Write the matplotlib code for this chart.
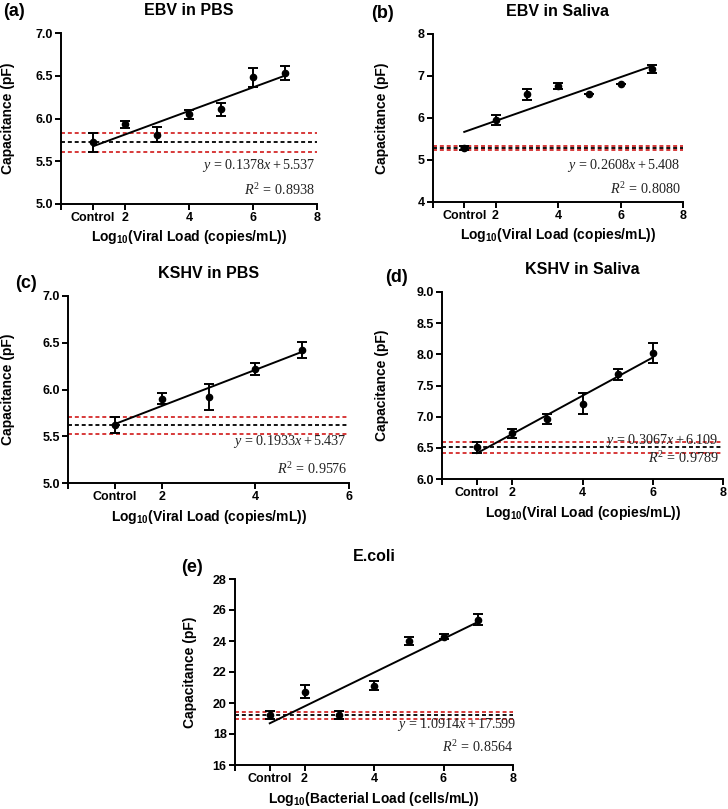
import matplotlib
matplotlib.use("Agg")
import matplotlib.pyplot as plt
import numpy as np

plt.rcParams['font.family'] = ['Liberation Sans', 'DejaVu Sans']
plt.rcParams['font.weight'] = 'bold'
plt.rcParams['mathtext.fontset'] = 'custom'
plt.rcParams['mathtext.rm'] = 'Liberation Serif:weight=normal'
plt.rcParams['mathtext.it'] = 'Liberation Serif:italic:weight=normal'
plt.rcParams['mathtext.bf'] = 'Liberation Sans:bold'
plt.rcParams['mathtext.sf'] = 'Liberation Sans:bold'

W, H = 728, 809

# ---------------- data ----------------
titles = ["EBV in PBS", "EBV in Saliva", "KSHV in PBS", "KSHV in Saliva", "E.coli"]
panel_tags = ["(a)", "(b)", "(c)", "(d)", "(e)"]
xlabels = ["Viral Load (copies/mL)", "Viral Load (copies/mL)", "Viral Load (copies/mL)",
           "Viral Load (copies/mL)", "Bacterial Load (cells/mL)"]

a_x = [1, 2, 3, 4, 5, 6, 7]
a_y = [5.72, 5.93, 5.81, 6.05, 6.11, 6.48, 6.53]
a_e = [0.11, 0.04, 0.085, 0.05, 0.075, 0.11, 0.08]
a_fit = (0.1378, 5.537); a_r2 = "0.8938"
a_band = (5.72, 5.83, 5.61)

b_x = [1, 2, 3, 4, 5, 6, 7]
b_y = [5.29, 5.95, 6.57, 6.77, 6.57, 6.80, 7.16]
b_e = [0.05, 0.12, 0.13, 0.07, 0.0, 0.0, 0.10]
b_fit = (0.2608, 5.408); b_r2 = "0.8080"
b_band = (5.29, 5.34, 5.24)

c_x = [1, 2, 3, 4, 5]
c_y = [5.62, 5.90, 5.92, 6.22, 6.42]
c_e = [0.09, 0.06, 0.14, 0.06, 0.085]
c_fit = (0.1933, 5.437); c_r2 = "0.9576"
c_band = (5.62, 5.71, 5.52)

d_x = [1, 2, 3, 4, 5, 6]
d_y = [6.51, 6.73, 6.96, 7.21, 7.68, 8.02]
d_e = [0.09, 0.075, 0.08, 0.175, 0.09, 0.16]
d_fit = (0.3067, 6.109); d_r2 = "0.9789"
d_band = (6.51, 6.60, 6.41)

e_x = [1, 2, 3, 4, 5, 6, 7]
e_y = [19.22, 20.73, 19.22, 21.11, 23.99, 24.29, 25.38]
e_e = [0.26, 0.40, 0.28, 0.30, 0.27, 0.18, 0.33]
e_fit = (1.0914, 17.599); e_r2 = "0.8564"
e_band = (19.22, 19.45, 18.97)

xlims = [(0, 8), (0, 8), (0, 6), (0, 8), (0, 8)]
ylims = [(5.0, 7.0), (4, 8), (5.0, 7.0), (6.0, 9.0), (16, 28)]
yticks = [[5.0, 5.5, 6.0, 6.5, 7.0], [4, 5, 6, 7, 8], [5.0, 5.5, 6.0, 6.5, 7.0],
          [6.0, 6.5, 7.0, 7.5, 8.0, 8.5, 9.0], [16, 18, 20, 22, 24, 26, 28]]
yfmt = ["{:.1f}", "{:.0f}", "{:.1f}", "{:.1f}", "{:.0f}"]
xticks = [[0, 1, 2, 4, 6, 8], [0, 1, 2, 4, 6, 8], [0, 1, 2, 4, 6], [0, 1, 2, 4, 6, 8], [0, 1, 2, 4, 6, 8]]

# text positions (data coords): eq (x, y), r2 (x, y)
eq_pos = [((7.95, 5.45), (7.93, 5.16)), ((7.92, 4.86), (7.92, 4.32)), ((5.95, 5.44), (5.95, 5.15)),
          ((7.87, 6.615), (7.87, 6.33)), ((8.08, 18.6), (8.0, 17.15))]

# axes pixel boxes: left, top, right, bottom
boxes = [(61, 33, 317, 204), (433, 34, 683, 202), (68, 296, 349, 483),
         (442, 292, 723, 479), (235, 579, 513, 765)]
ylabel_right_px = [15, 389, 15, 389, 197]
tag_pos = [(3, 12), (371, 14), (15, 284), (385, 278), (181, 567)]

series = [(a_x, a_y, a_e, a_fit, a_r2, a_band),
          (b_x, b_y, b_e, b_fit, b_r2, b_band),
          (c_x, c_y, c_e, c_fit, c_r2, c_band),
          (d_x, d_y, d_e, d_fit, d_r2, d_band),
          (e_x, e_y, e_e, e_fit, e_r2, e_band)]

fig = plt.figure(figsize=(W / 100, H / 100), dpi=100)
red = '#d42a2a'

for i, (xs, ys, es, fit, r2, band) in enumerate(series):
    l, t, r, b = boxes[i]
    ax = fig.add_axes([l / W, 1 - b / H, (r - l) / W, (b - t) / H])
    ax.set_xlim(*xlims[i])
    ax.set_ylim(*ylims[i])
    for s in ['top', 'right']:
        ax.spines[s].set_visible(False)
    for s in ['left', 'bottom']:
        ax.spines[s].set_linewidth(1.4)
    ax.tick_params(width=1.4, length=4, labelsize=9, pad=2)
    ax.set_yticks(yticks[i])
    ax.set_yticklabels([yfmt[i].format(v) for v in yticks[i]], fontweight='bold')
    ax.set_xticks(xticks[i])
    ax.set_xticklabels(["", "Control"] + [str(v) for v in xticks[i][2:]], fontweight='bold')

    # baseline band (control mean and +/- sd)
    ax.axhline(band[0], color='black', ls=(0, (2.2, 1.6)), lw=1.3)
    ax.axhline(band[1], color=red, ls=(0, (2.2, 1.6)), lw=1.3)
    ax.axhline(band[2], color=red, ls=(0, (2.2, 1.6)), lw=1.3)

    # linear fit
    fx = np.array([xs[0], xs[-1]])
    ax.plot(fx, fit[0] * fx + fit[1], color='black', lw=1.4)

    ax.errorbar(xs, ys, yerr=es, fmt='o', color='black', ms=4.5, elinewidth=1.4,
                capsize=3.5, capthick=1.4)

    ax.set_title(titles[i], fontsize=11.5, fontweight='bold', pad=13)
    ax.set_ylabel("Capacitance (pF)", fontsize=10, fontweight='bold')
    ax.yaxis.set_label_coords((ylabel_right_px[i] - l) / (r - l), 0.5)
    ax.set_xlabel(r"Log$_{\mathbf{10}}$(" + xlabels[i] + ")", fontsize=10, fontweight='bold', labelpad=3)

    (ex, ey), (rx, ry) = eq_pos[i]
    ax.text(ex, ey, r"$y\,=\,%.4fx + %.3f$" % fit, ha='right', va='center', fontsize=10.2,
            fontweight='normal', color='#222222')
    ax.text(rx, ry, r"$R^2\,=\,%s$" % r2, ha='right', va='center', fontsize=10.2,
            fontweight='normal', color='#222222')

    tx, ty = tag_pos[i]
    fig.text(tx / W, 1 - ty / H, panel_tags[i], fontsize=13, fontweight='bold', va='center', ha='left')

fig.savefig("out.png", dpi=100)
